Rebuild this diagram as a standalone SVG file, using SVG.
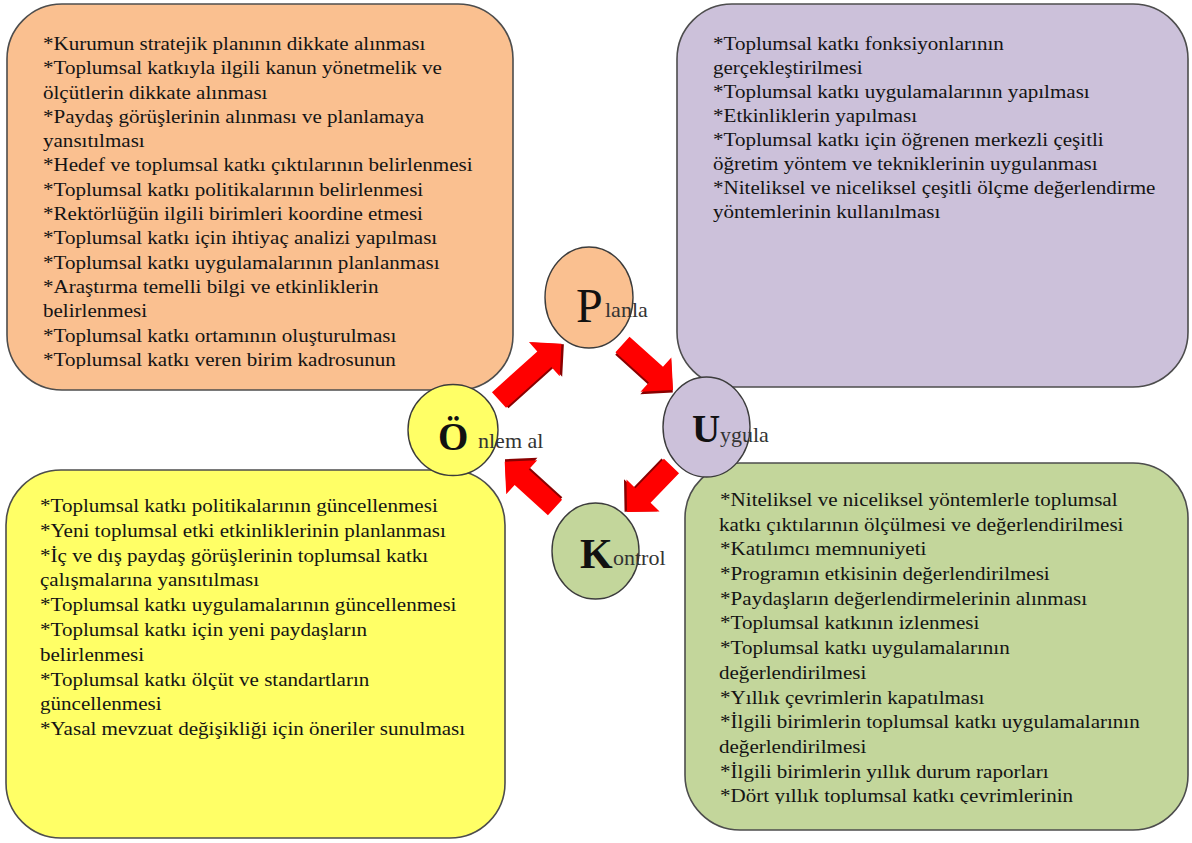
<svg xmlns="http://www.w3.org/2000/svg" width="1192" height="843" viewBox="0 0 1192 843">
<style>
.box{stroke:#4d4d4d;stroke-width:1.6}
.body{font-family:"Liberation Serif","Times New Roman",serif;font-size:19.5px;fill:#141414}
.circ{stroke:#3c3c3c;stroke-width:1.4}
.big{font-family:"Liberation Serif","Times New Roman",serif;fill:#111}
.suf{font-family:"Liberation Serif","Times New Roman",serif;font-size:22px;fill:#333}
.arr{fill:#ff0000}
.arrs{fill:#8a0000}
</style>
<defs>
<path id="a84" d="M0,-10.5 L61,-10.5 L61,-23 L84,0 L61,23 L61,10.5 L0,10.5 Z"/>
<path id="a68" d="M0,-10.5 L45,-10.5 L45,-23 L68,0 L45,23 L45,10.5 L0,10.5 Z"/>
<path id="a64" d="M0,-10.5 L41,-10.5 L41,-23 L64,0 L41,23 L41,10.5 L0,10.5 Z"/>
<clipPath id="clipO"><rect x="0" y="0" width="600" height="369"/></clipPath>
<clipPath id="clipG"><rect x="600" y="400" width="600" height="404"/></clipPath>
</defs>
<rect width="1192" height="843" fill="#ffffff"/>

<g id="box-planla">
<rect class="box" x="7" y="4" width="506" height="386" rx="55" ry="55" fill="#fac090"/>
<g clip-path="url(#clipO)">
<text class="body" transform="translate(43 0) scale(1.08 1)">
<tspan x="0" y="50">*Kurumun stratejik planının dikkate alınması</tspan>
<tspan x="0" y="74.3">*Toplumsal katkıyla ilgili kanun yönetmelik ve</tspan>
<tspan x="0" y="98.6">ölçütlerin dikkate alınması</tspan>
<tspan x="0" y="122.9">*Paydaş görüşlerinin alınması ve planlamaya</tspan>
<tspan x="0" y="147.2">yansıtılması</tspan>
<tspan x="0" y="171.5">*Hedef ve toplumsal katkı çıktılarının belirlenmesi</tspan>
<tspan x="0" y="195.8">*Toplumsal katkı politikalarının belirlenmesi</tspan>
<tspan x="0" y="220.1">*Rektörlüğün ilgili birimleri koordine etmesi</tspan>
<tspan x="0" y="244.4">*Toplumsal katkı için ihtiyaç analizi yapılması</tspan>
<tspan x="0" y="268.7">*Toplumsal katkı uygulamalarının planlanması</tspan>
<tspan x="0" y="293">*Araştırma temelli bilgi ve etkinliklerin</tspan>
<tspan x="0" y="317.3">belirlenmesi</tspan>
<tspan x="0" y="341.6">*Toplumsal katkı ortamının oluşturulması</tspan>
<tspan x="0" y="365.9">*Toplumsal katkı veren birim kadrosunun</tspan>
</text>
</g>
</g>

<g id="box-uygula">
<rect class="box" x="677" y="4" width="511" height="383" rx="55" ry="55" fill="#ccc1da"/>
<text class="body" transform="translate(713 0) scale(1.08 1)">
<tspan x="0" y="50">*Toplumsal katkı fonksiyonlarının</tspan>
<tspan x="0" y="74">gerçekleştirilmesi</tspan>
<tspan x="0" y="98">*Toplumsal katkı uygulamalarının yapılması</tspan>
<tspan x="0" y="122">*Etkinliklerin yapılması</tspan>
<tspan x="0" y="146">*Toplumsal katkı için öğrenen merkezli çeşitli</tspan>
<tspan x="0" y="170">öğretim yöntem ve tekniklerinin uygulanması</tspan>
<tspan x="0" y="194">*Niteliksel ve niceliksel çeşitli ölçme değerlendirme</tspan>
<tspan x="0" y="218">yöntemlerinin kullanılması</tspan>
</text>
</g>

<g id="box-onlem">
<rect class="box" x="6" y="470" width="499" height="368" rx="55" ry="55" fill="#ffff66"/>
<text class="body" transform="translate(40 0) scale(1.08 1)">
<tspan x="0" y="512">*Toplumsal katkı politikalarının güncellenmesi</tspan>
<tspan x="0" y="536.8">*Yeni toplumsal etki etkinliklerinin planlanması</tspan>
<tspan x="0" y="561.6">*İç ve dış paydaş görüşlerinin toplumsal katkı</tspan>
<tspan x="0" y="586.4">çalışmalarına yansıtılması</tspan>
<tspan x="0" y="611.2">*Toplumsal katkı uygulamalarının güncellenmesi</tspan>
<tspan x="0" y="636">*Toplumsal katkı için yeni paydaşların</tspan>
<tspan x="0" y="660.8">belirlenmesi</tspan>
<tspan x="0" y="685.6">*Toplumsal katkı ölçüt ve standartların</tspan>
<tspan x="0" y="710.4">güncellenmesi</tspan>
<tspan x="0" y="735.2">*Yasal mevzuat değişikliği için öneriler sunulması</tspan>
</text>
</g>

<g id="box-kontrol">
<rect class="box" x="685" y="463" width="503" height="367" rx="55" ry="55" fill="#c3d69b"/>
<g clip-path="url(#clipG)">
<text class="body" transform="translate(719 0) scale(1.08 1)">
<tspan x="1" y="506">*Niteliksel ve niceliksel yöntemlerle toplumsal</tspan>
<tspan x="0" y="530.7">katkı çıktılarının ölçülmesi ve değerlendirilmesi</tspan>
<tspan x="1" y="555.4">*Katılımcı memnuniyeti</tspan>
<tspan x="1" y="580.1">*Programın etkisinin değerlendirilmesi</tspan>
<tspan x="1" y="604.8">*Paydaşların değerlendirmelerinin alınması</tspan>
<tspan x="1" y="629.5">*Toplumsal katkının izlenmesi</tspan>
<tspan x="1" y="654.2">*Toplumsal katkı uygulamalarının</tspan>
<tspan x="0" y="678.9">değerlendirilmesi</tspan>
<tspan x="1" y="703.6">*Yıllık çevrimlerin kapatılması</tspan>
<tspan x="1" y="728.3">*İlgili birimlerin toplumsal katkı uygulamalarının</tspan>
<tspan x="0" y="753">değerlendirilmesi</tspan>
<tspan x="1" y="777.7">*İlgili birimlerin yıllık durum raporları</tspan>
<tspan x="1" y="802.4">*Dört yıllık toplumsal katkı çevrimlerinin</tspan>
</text>
</g>
</g>

<g id="connectors">
<g transform="translate(499 400) rotate(-42)">
<use href="#a84" class="arrs" transform="translate(1.5 2)"/>
<use href="#a84" class="arr"/>
</g>
<g transform="translate(622.5 344.5) rotate(42)">
<use href="#a68" class="arrs" transform="translate(1.5 2)"/>
<use href="#a68" class="arr"/>
</g>
<g transform="translate(671.5 466) rotate(134)">
<use href="#a64" class="arrs" transform="translate(1.5 2)"/>
<use href="#a64" class="arr"/>
</g>
<g transform="translate(555 507.5) rotate(-137.7)">
<use href="#a68" class="arrs" transform="translate(1.5 2)"/>
<use href="#a68" class="arr"/>
</g>
</g>

<g id="node-planla">
<ellipse class="circ" cx="589" cy="297.5" rx="44" ry="50.5" fill="#fac090"/>
<text class="big" x="576" y="322" font-size="48">P</text>
<text class="suf" x="605" y="317">lanla</text>
</g>

<g id="node-uygula">
<ellipse class="circ" cx="706.5" cy="427" rx="43.5" ry="50" fill="#ccc1da"/>
<text class="big" x="692" y="442" font-size="39" font-weight="bold">U</text>
<text class="suf" x="720" y="442">ygula</text>
</g>

<g id="node-kontrol">
<ellipse class="circ" cx="595.5" cy="551" rx="43.5" ry="48" fill="#c3d69b"/>
<text class="big" x="580" y="568" font-size="42" font-weight="bold">K</text>
<text class="suf" x="613" y="565">ontrol</text>
</g>

<g id="node-onlem">
<ellipse class="circ" cx="453" cy="430" rx="45" ry="45.5" fill="#ffff66"/>
<text class="big" x="438" y="450" font-size="39" font-weight="bold">Ö</text>
<text class="suf" x="478" y="448">nlem al</text>
</g>
</svg>
